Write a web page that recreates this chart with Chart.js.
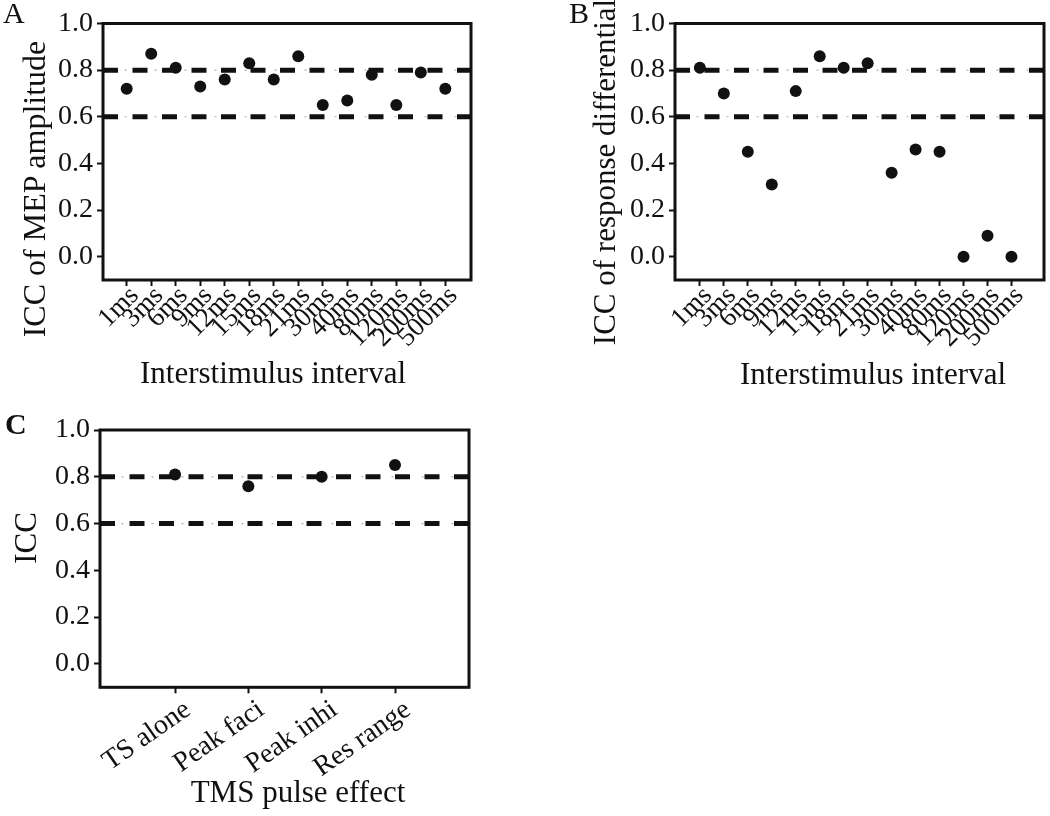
<!DOCTYPE html>
<html><head><meta charset="utf-8">
<script src="https://cdn.jsdelivr.net/npm/chart.js@4/dist/chart.umd.min.js"></script>
<style>
body{margin:0;background:#fff;width:1050px;height:816px;position:relative;overflow:hidden;font-family:"Liberation Serif","Times New Roman",serif;color:#111}
.c{position:absolute}
.t{position:absolute;white-space:nowrap;line-height:1;font-size:31px;color:#111}
.r{transform:translate(-50%,-50%) rotate(-90deg)}
.h{transform:translateX(-50%)}
.p{position:absolute;line-height:1;font-size:30px;color:#111}
</style></head><body>
<div class="c" style="left:0;top:0"><canvas id="ca" width="480" height="400"></canvas></div>
<div class="c" style="left:520px;top:0"><canvas id="cb" width="530" height="400"></canvas></div>
<div class="c" style="left:0;top:400px"><canvas id="cc" width="480" height="416"></canvas></div>

<div class="p" style="left:3px;top:-2px">A</div>
<div class="p" style="left:569px;top:-2px">B</div>
<div class="p" style="left:5px;top:409px;font-weight:bold">C</div>

<div class="t r" style="left:34px;top:189px;font-size:32px">ICC of MEP amplitude</div>
<div class="t r" style="left:604px;top:172px">ICC of response differential</div>
<div class="t r" style="left:25px;top:538px">ICC</div>

<div class="t h" style="left:273px;top:357px">Interstimulus interval</div>
<div class="t h" style="left:873px;top:358px">Interstimulus interval</div>
<div class="t h" style="left:298px;top:776px">TMS pulse effect</div>

<script>
// ---- data ----
const isiLabels = ['1ms','3ms','6ms','9ms','12ms','15ms','18ms','21ms','30ms','40ms','80ms','120ms','200ms','500ms'];
const mepIcc = [0.72,0.87,0.81,0.73,0.76,0.83,0.76,0.86,0.65,0.67,0.78,0.65,0.79,0.72];
const respDiffIcc = [0.81,0.70,0.45,0.31,0.71,0.86,0.81,0.83,0.36,0.46,0.45,0.00,0.09,0.00];
const pulseLabels = ['TS alone','Peak faci','Peak inhi','Res range'];
const pulseIcc = [0.81,0.76,0.80,0.85];
const thresholds = [0.8, 0.6];
const yTicks = [0.0,0.2,0.4,0.6,0.8,1.0];

const INK = '#111';
const FAM = '"Liberation Serif","Times New Roman",serif';

const framePlugin = {
  id:'frame',
  afterDatasetsDraw(chart){
    const {ctx, chartArea:a} = chart;
    ctx.save();
    ctx.strokeStyle = INK; ctx.lineWidth = 3;
    ctx.strokeRect(a.left, a.top, a.right - a.left, a.bottom - a.top);
    ctx.restore();
  }
};

function makePanel(id, labels, values, o){
  const datasets = [];
  thresholds.forEach(t => {
    datasets.push({type:'line', data:[{x:o.xMin,y:t},{x:o.xMax,y:t}], borderColor:'#b0b0b0', borderWidth:1.2,
      borderDash:[2,13], borderDashOffset:8.5, pointRadius:0, order:3});
    datasets.push({type:'line', data:[{x:o.xMin,y:t},{x:o.xMax,y:t}], borderColor:INK, borderWidth:5,
      borderDash:[15,14.5], pointRadius:0, order:2});
  });
  datasets.push({type:'scatter', data:values.map((v,i)=>({x:i,y:v})), backgroundColor:INK, borderColor:INK,
    borderWidth:0, pointRadius:6, order:0});
  new Chart(document.getElementById(id), {
    data:{datasets},
    options:{
      responsive:false, animation:false, events:[],
      layout:{padding:{top:o.top, right:o.W - o.right, left:0, bottom:0}},
      plugins:{legend:{display:false}, tooltip:{enabled:false}},
      scales:{
        x:{type:'linear', min:o.xMin, max:o.xMax,
          afterBuildTicks:s=>{ s.ticks = labels.map((_,i)=>({value:i})); },
          afterFit:s=>{ s.height = o.H - o.bottom; },
          ticks:{autoSkip:false, minRotation:o.rot, maxRotation:o.rot, font:{family:FAM,size:o.xfs}, color:INK,
            padding:o.xpad, labelOffset:o.xoff, callback:(v)=>labels[v]},
          grid:{drawOnChartArea:false, tickLength:6, tickWidth:2, tickColor:INK},
          border:{display:false}},
        y:{type:'linear', min:-0.1, max:1.0,
          afterBuildTicks:s=>{ s.ticks = yTicks.map(v=>({value:v})); },
          afterFit:s=>{ s.width = o.left; },
          ticks:{font:{family:FAM,size:28}, color:INK, padding:4, callback:v=>Number(v).toFixed(1)},
          grid:{drawOnChartArea:false, tickLength:6, tickWidth:2, tickColor:INK},
          border:{display:false}}
      }
    },
    plugins:[framePlugin]
  });
}

makePanel('ca', isiLabels, mepIcc, {W:480,H:400,left:103,right:471,top:23.5,bottom:280,xMin:-0.967,xMax:14.048,rot:45,xfs:27,xpad:-6,xoff:8});
makePanel('cb', isiLabels, respDiffIcc, {W:530,H:400,left:155,right:526,top:23.5,bottom:280,xMin:-1.037,xMax:14.357,rot:45,xfs:27,xpad:-6,xoff:8});
makePanel('cc', pulseLabels, pulseIcc, {W:480,H:416,left:100,right:469,top:30,bottom:287.3,xMin:-1.023,xMax:4.009,rot:35,xfs:28,xpad:0,xoff:13});
</script>
</body></html>
